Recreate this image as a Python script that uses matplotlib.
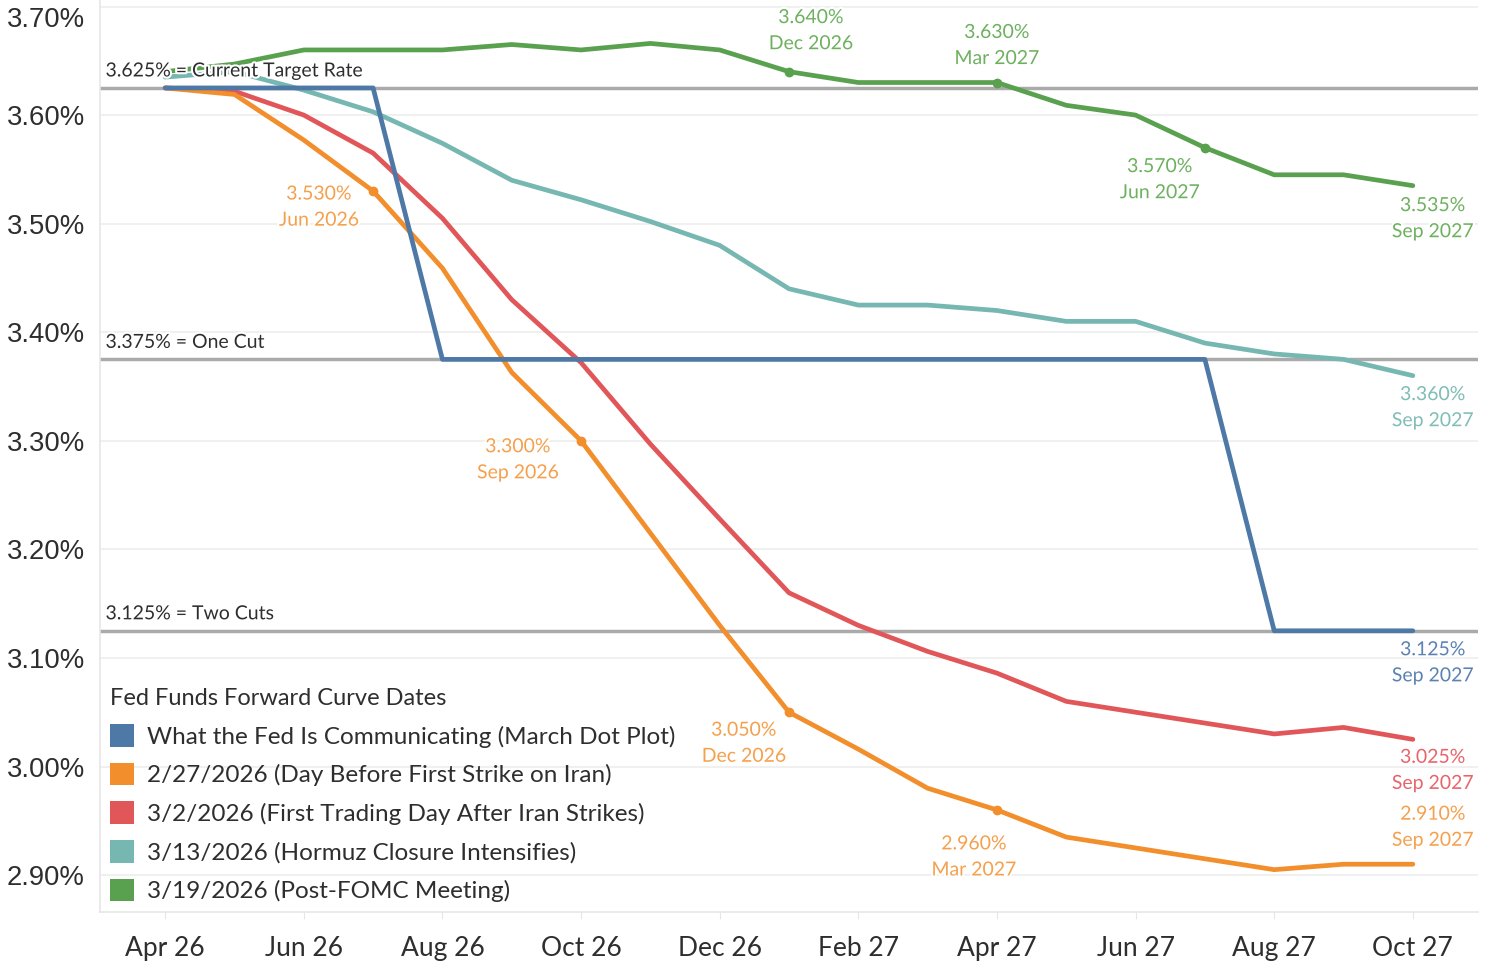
import matplotlib
matplotlib.use("Agg")
import matplotlib.pyplot as plt
import matplotlib.patheffects as pe
from matplotlib.patches import Patch
from matplotlib.transforms import blended_transform_factory

# ==============================
# DATA
# ==============================

months = ["Apr 26", "May 26", "Jun 26", "Jul 26", "Aug 26", "Sep 26", "Oct 26",
          "Nov 26", "Dec 26", "Jan 27", "Feb 27", "Mar 27", "Apr 27", "May 27",
          "Jun 27", "Jul 27", "Aug 27", "Sep 27", "Oct 27"]
tick_labels = ["Apr 26", "Jun 26", "Aug 26", "Oct 26", "Dec 26",
               "Feb 27", "Apr 27", "Jun 27", "Aug 27", "Oct 27"]

fed_dots = [3.625, 3.625, 3.625, 3.625, 3.375, 3.375, 3.375, 3.375, 3.375, 3.375,
            3.375, 3.375, 3.375, 3.375, 3.375, 3.375, 3.125, 3.125, 3.125]
feb27 = [3.625, 3.619, 3.577, 3.530, 3.459, 3.363, 3.300, 3.215, 3.130, 3.050,
         3.016, 2.980, 2.960, 2.935, 2.925, 2.915, 2.905, 2.910, 2.910]
mar02 = [3.625, 3.622, 3.600, 3.565, 3.505, 3.430, 3.372, 3.297, 3.228, 3.160,
         3.130, 3.106, 3.086, 3.060, 3.050, 3.040, 3.030, 3.036, 3.025]
mar13 = [3.635, 3.640, 3.623, 3.603, 3.574, 3.540, 3.522, 3.502, 3.480, 3.440,
         3.425, 3.425, 3.420, 3.410, 3.410, 3.390, 3.380, 3.375, 3.360]
mar19 = [3.640, 3.647, 3.660, 3.660, 3.660, 3.665, 3.660, 3.666, 3.660, 3.640,
         3.630, 3.630, 3.630, 3.609, 3.600, 3.570, 3.545, 3.545, 3.535]

series_names = ["What the Fed Is Communicating (March Dot Plot)",
                "2/27/2026 (Day Before First Strike on Iran)",
                "3/2/2026 (First Trading Day After Iran Strikes)",
                "3/13/2026 (Hormuz Closure Intensifies)",
                "3/19/2026 (Post-FOMC Meeting)"]

ref_levels = [3.625, 3.375, 3.125]
ref_labels = ["3.625% = Current Target Rate", "3.375% = One Cut", "3.125% = Two Cuts"]

# callouts: (series index, month index, contract label, pixel offset)
callouts = [
    (4, 9, "Dec 2026", (22, 41)),
    (4, 12, "Mar 2027", (0, 37)),
    (4, 15, "Jun 2027", (-45, -32)),
    (4, 18, "Sep 2027", (20, -33)),
    (3, 18, "Sep 2027", (20, -32)),
    (0, 18, "Sep 2027", (20, -32)),
    (2, 18, "Sep 2027", (20, -31)),
    (1, 18, "Sep 2027", (20, 37)),
    (1, 3, "Jun 2026", (-54, -16)),
    (1, 6, "Sep 2026", (-63, -19)),
    (1, 9, "Dec 2026", (-45, -31)),
    (1, 12, "Mar 2027", (-23, -47)),
]
marker_points = [(4, 9), (4, 12), (4, 15), (1, 3), (1, 6), (1, 9), (1, 12)]

# ==============================
# STYLE
# ==============================

line_colors = ["#4e79a7", "#f28e2b", "#e15759", "#76b7b2", "#59a14f"]
text_colors = ["#5b82b3", "#f5a04c", "#e8646b", "#80bdb7", "#6db15f"]
DARK = "#2e2e2e"

plt.rcParams["font.family"] = ["Lato", "DejaVu Sans"]

all_series = [fed_dots, feb27, mar02, mar13, mar19]
x = list(range(len(months)))

fig = plt.figure(figsize=(14.93, 9.65), dpi=100)
ax = fig.add_axes([100 / 1493, 53 / 965, 1378 / 1493, 912 / 965])

ax.set_xlim(-0.94, 18.94)
ax.set_ylim(2.866, 3.706)

# gridlines
ax.set_yticks([2.9, 3.0, 3.1, 3.2, 3.3, 3.4, 3.5, 3.6, 3.7])
ax.yaxis.grid(True, color="#eeeeee", linewidth=1.2)
ax.set_axisbelow(True)
for s in ["top", "right"]:
    ax.spines[s].set_visible(False)
for s in ["left", "bottom"]:
    ax.spines[s].set_color("#e6e6e6")
    ax.spines[s].set_linewidth(1.2)

ytl = ax.set_yticklabels([f"{v:.2f}%" for v in ax.get_yticks()],
                         fontfamily="Liberation Sans", fontsize=19.8, color=DARK)
ytl[-1].set_verticalalignment("top")
ax.tick_params(axis="y", length=0, pad=11)

ax.set_xticks(x[::2])
ax.set_xticklabels(tick_labels, fontsize=19, color=DARK)
ax.tick_params(axis="x", length=5, color="#e6e6e6", pad=12)

# reference lines
trans = blended_transform_factory(ax.transAxes, ax.transData)
for lvl, lab in zip(ref_levels, ref_labels):
    ax.axhline(lvl, color="#aaaaaa", linewidth=2.5, zorder=1)
    ax.annotate(lab, xy=(0.004, lvl), xycoords=trans, xytext=(0, 17),
                textcoords="offset pixels", ha="left", va="center",
                fontsize=14, color=DARK, zorder=6,
                path_effects=[pe.withStroke(linewidth=3, foreground="white")])

# curves (draw dot plot last so it sits on top)
order = [4, 3, 2, 1, 0]
for i in order:
    ax.plot(x, all_series[i], color=line_colors[i], linewidth=3.4,
            solid_joinstyle="round", solid_capstyle="round", zorder=3 + (i == 0))

for si, mi in marker_points:
    ax.plot(x[mi], all_series[si][mi], "o", color=line_colors[si],
            markersize=6, zorder=5)

for si, mi, lab, off in callouts:
    v = all_series[si][mi]
    ax.annotate(f"{v:.3f}%\n{lab}", xy=(x[mi], v), xytext=off,
                textcoords="offset pixels", ha="center", va="center",
                fontsize=14, color=text_colors[si], linespacing=1.65, zorder=7,
                path_effects=[pe.withStroke(linewidth=3, foreground="white")])

# legend
handles = [Patch(facecolor=c, edgecolor="none") for c in line_colors]
leg = ax.legend(handles, series_names, title="Fed Funds Forward Curve Dates",
                loc="lower left", bbox_to_anchor=(0.0, 0.0), frameon=False,
                fontsize=17.5, title_fontsize=17, handlelength=1.0,
                handleheight=1.05, handletextpad=0.55, labelspacing=0.62,
                borderaxespad=0.1, borderpad=0.3, alignment="left")
for t in leg.get_texts():
    t.set_color(DARK)
leg.get_title().set_color(DARK)

fig.savefig("out.png", dpi=100)
